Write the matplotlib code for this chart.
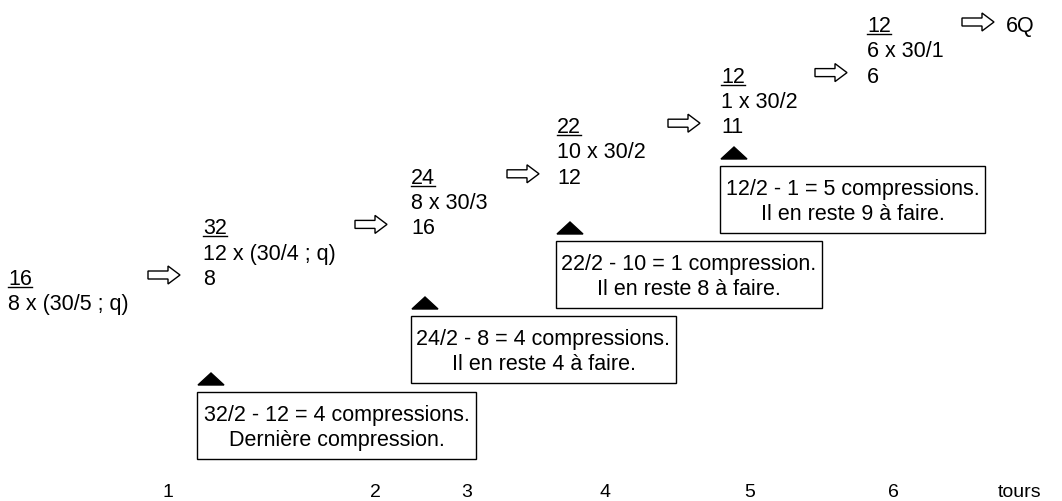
import matplotlib.pyplot as plt
from matplotlib.patches import FancyArrow, Polygon, Rectangle

# Données du schéma (compressions par tour)
numerateurs = ['16', '32', '24', '22', '12', '12']
formules = ['8 x (30/5 ; q)', '12 x (30/4 ; q)', '8 x 30/3', '10 x 30/2', '1 x 30/2', '6 x 30/1']
resultats = ['8', '16', '12', '11', '6', '6Q']
boites = [
    ('32/2 - 12 = 4 compressions.', 'Dernière compression.'),
    ('24/2 - 8 = 4 compressions.', 'Il en reste 4 à faire.'),
    ('22/2 - 10 = 1 compression.', 'Il en reste 8 à faire.'),
    ('12/2 - 1 = 5 compressions.', 'Il en reste 9 à faire.'),
]
tours = ['1', '2', '3', '4', '5', '6', 'tours']

# Mise en page (pixels)
col_x = [8, 203, 411, 557, 721, 867, 1006]
fleche_x = [148, 355, 507, 668, 815, 962]
y0 = 285
pas = 50.6
interligne = 25.3
boite_g = [197, 411, 556, 720]
boite_d = [476, 676, 822, 985]
boite_h = [393, 317, 242, 167]
tours_x = [168, 375, 467, 605, 750, 893, 1020]

police = ['Liberation Sans', 'DejaVu Sans']
taille = 15.5

fig = plt.figure(figsize=(10.62, 5.02), dpi=100)
ax = fig.add_axes([0, 0, 1, 1])
ax.set_xlim(0, 1062)
ax.set_ylim(502, 0)
ax.axis('off')

textes_num = []
for i in range(len(numerateurs)):
    y = y0 - i * pas
    t = ax.text(col_x[i], y, numerateurs[i], fontsize=taille, family=police, va='baseline')
    textes_num.append((t, y))
    ax.text(col_x[i], y + interligne, formules[i], fontsize=taille, family=police, va='baseline')
    ax.text(col_x[i + 1], y, resultats[i], fontsize=taille, family=police, va='baseline')
    ax.add_patch(FancyArrow(fleche_x[i], y - 9, 32, 0, width=8, head_width=18, head_length=12,
                            length_includes_head=True, facecolor='white', edgecolor='black', lw=1))

# soulignement des numérateurs
fig.canvas.draw()
inv = ax.transData.inverted()
for t, y in textes_num:
    bb = t.get_window_extent()
    (xa, _), (xb, _) = inv.transform([[bb.x0, bb.y0], [bb.x1, bb.y1]])
    ax.plot([xa, xb], [y + 3, y + 3], color='black', lw=1)

for i, (l1, l2) in enumerate(boites):
    g, d, h = boite_g[i], boite_d[i], boite_h[i]
    ax.add_patch(Rectangle((g, h), d - g, 67, facecolor='white', edgecolor='black', lw=1))
    xc = (g + d) / 2
    ax.text(xc, h + 28, l1, fontsize=taille, family=police, ha='center', va='baseline')
    ax.text(xc, h + 53, l2, fontsize=taille, family=police, ha='center', va='baseline')
    xt = g + 14
    ax.add_patch(Polygon([[xt - 13, h - 7], [xt + 13, h - 7], [xt, h - 19]],
                         closed=True, facecolor='black', edgecolor='black'))

for x, lab in zip(tours_x, tours):
    ax.text(x, 497, lab, fontsize=14, family=['Liberation Sans Narrow', 'Liberation Sans'],
            ha='center', va='baseline')

fig.savefig('out.png', dpi=100)
